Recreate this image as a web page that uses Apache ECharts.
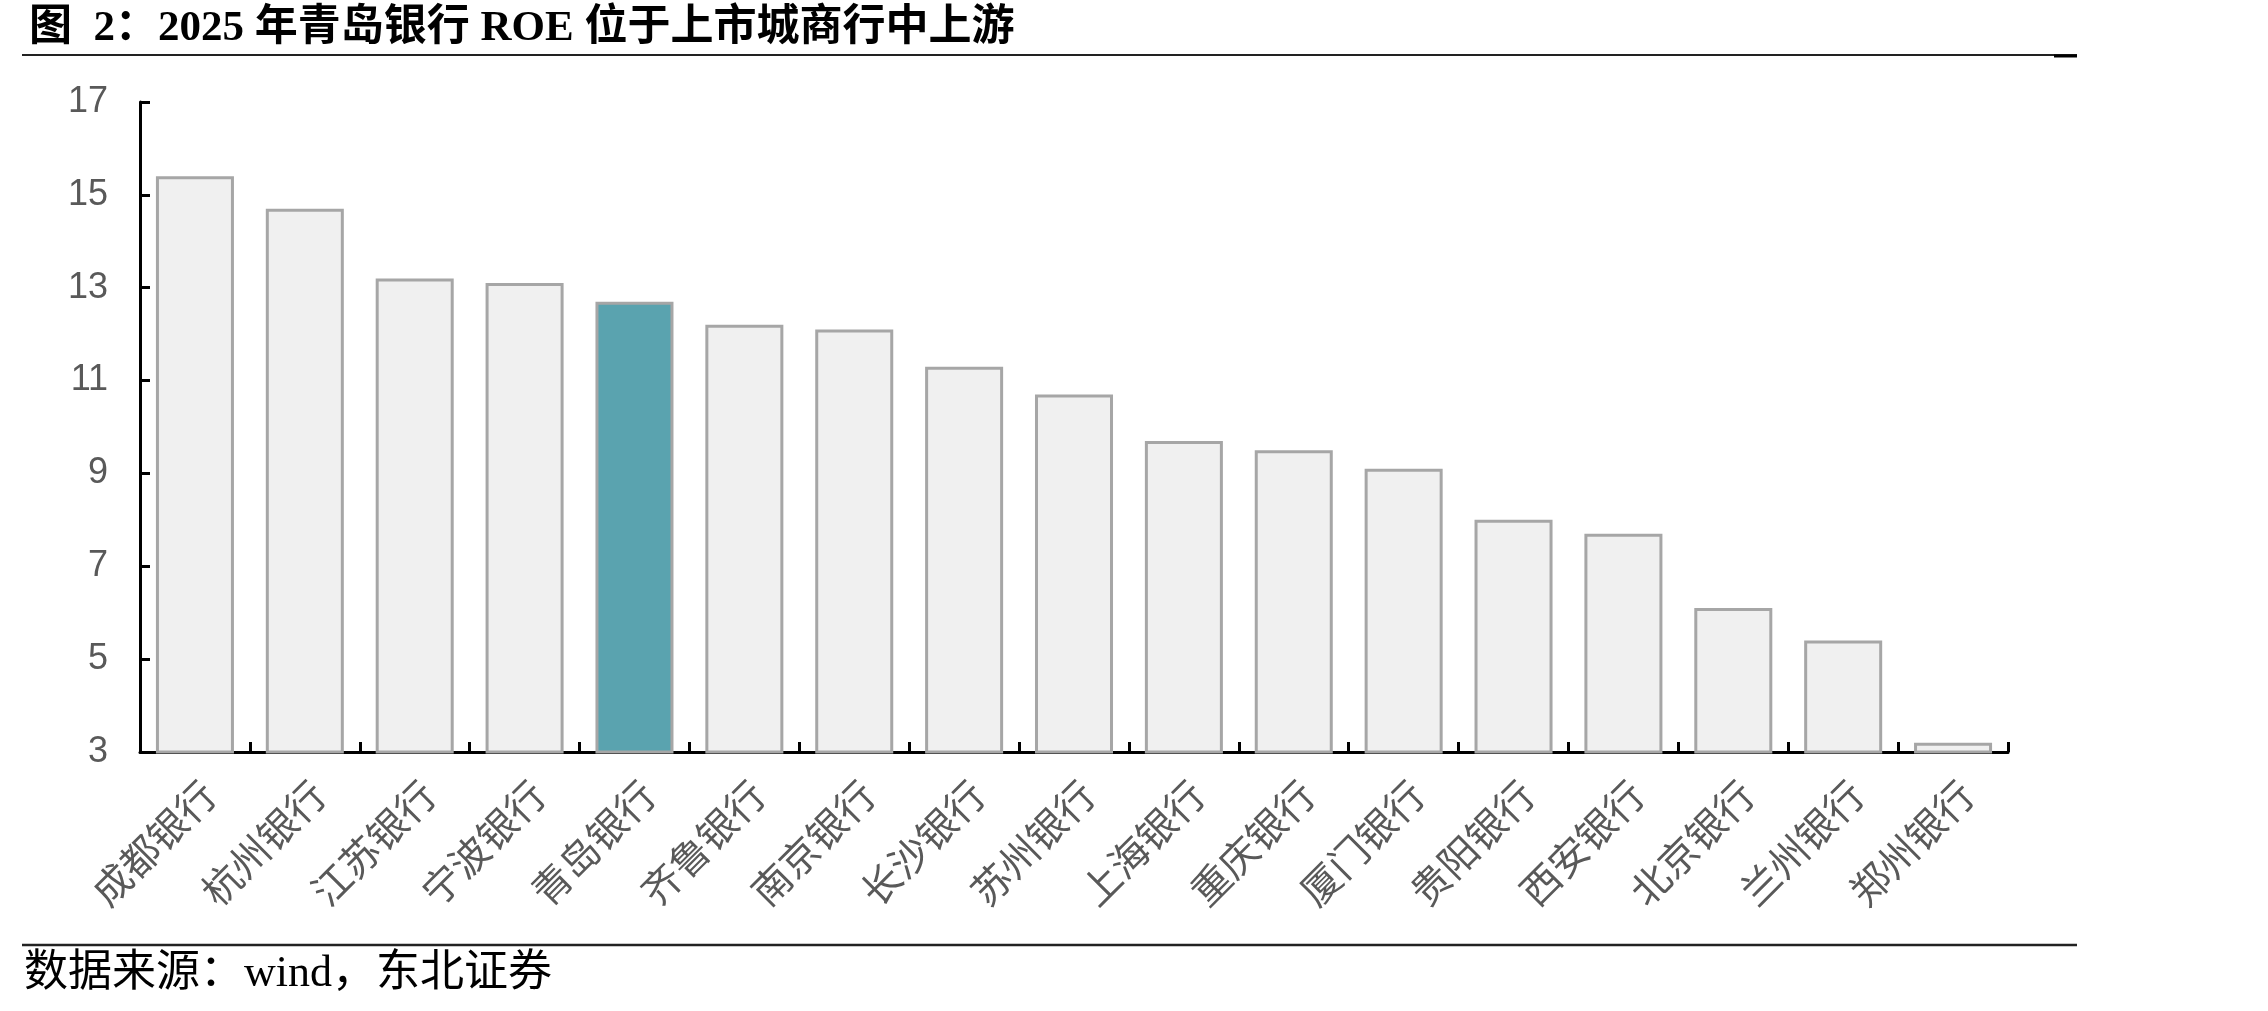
<!DOCTYPE html>
<html>
<head>
<meta charset="utf-8">
<script src="https://cdn.jsdelivr.net/npm/echarts@6/dist/echarts.min.js"></script>
<style>
  html, body { margin: 0; padding: 0; background: #fff; }
  #chart { width: 2268px; height: 1011px; }
</style>
</head>
<body>
<div id="chart"></div>
<script>
// 数据
const banks = ['成都银行', '杭州银行', '江苏银行', '宁波银行', '青岛银行', '齐鲁银行', '南京银行', '长沙银行',
  '苏州银行', '上海银行', '重庆银行', '厦门银行', '贵阳银行', '西安银行', '北京银行', '兰州银行', '郑州银行']
const roe = [15.4, 14.7, 13.2, 13.1, 12.7, 12.2, 12.1, 11.3, 10.7, 9.7, 9.5, 9.1, 8.0, 7.7, 6.1, 5.4, 3.2]
const highlight = '青岛银行'

const titleText = '图  2：2025 年青岛银行 ROE 位于上市城商行中上游'
const sourceText = '数据来源：wind，东北证券'

const serif = '"Liberation Serif", "Noto Sans CJK SC", serif'

const chart = echarts.init(document.getElementById('chart'))

const barData = roe.map((v, i) => {
  if (banks[i] === highlight) {
    return { value: v, itemStyle: { color: '#5aa3af' } }
  }
  return v
})

chart.setOption({
  backgroundColor: '#fff',
  animation: false,
  title: {
    text: titleText,
    left: 24,
    top: 2,
    textStyle: {
      fontFamily: serif,
      fontSize: 43,
      fontWeight: 'bold',
      color: '#000'
    }
  },
  grid: {
    left: 140,
    right: 260,
    top: 102,
    bottom: 259,
    containLabel: false
  },
  xAxis: {
    type: 'category',
    data: banks,
    boundaryGap: true,
    axisLine: { lineStyle: { color: '#000', width: 3 } },
    axisTick: {
      show: true,
      inside: true,
      length: 10,
      interval: 0,
      lineStyle: { color: '#000', width: 3 }
    },
    axisLabel: {
      interval: 0,
      rotate: 45,
      margin: 22,
      verticalAlign: 'top',
      color: '#595959',
      fontSize: 39,
      fontFamily: '"Noto Sans CJK SC", sans-serif'
    }
  },
  yAxis: {
    type: 'value',
    min: 3,
    max: 17,
    interval: 2,
    splitLine: { show: false },
    axisLine: { show: true, lineStyle: { color: '#000', width: 3 } },
    axisTick: {
      show: true,
      inside: true,
      length: 10,
      lineStyle: { color: '#000', width: 3 }
    },
    axisLabel: {
      margin: 32,
      color: '#595959',
      fontSize: 36,
      fontFamily: '"Liberation Sans", Arial, sans-serif'
    }
  },
  series: [
    {
      type: 'bar',
      data: barData,
      barCategoryGap: '29%',
      itemStyle: {
        color: '#f0f0f0',
        borderColor: '#a6a6a6',
        borderWidth: 3
      }
    }
  ],
  graphic: [
    // 标题下方的线
    { type: 'line', shape: { x1: 22, y1: 55, x2: 2077, y2: 55 }, style: { stroke: '#222', lineWidth: 2 } },
    { type: 'line', shape: { x1: 2054, y1: 56, x2: 2077, y2: 56 }, style: { stroke: '#000', lineWidth: 3 } },
    // 来源上方的线
    { type: 'line', shape: { x1: 22, y1: 945, x2: 2077, y2: 945 }, style: { stroke: '#222', lineWidth: 2.5 } },
    {
      type: 'text',
      left: 24,
      top: 952,
      style: {
        text: sourceText,
        font: '44px ' + serif,
        fill: '#000'
      }
    }
  ]
})
</script>
</body>
</html>
